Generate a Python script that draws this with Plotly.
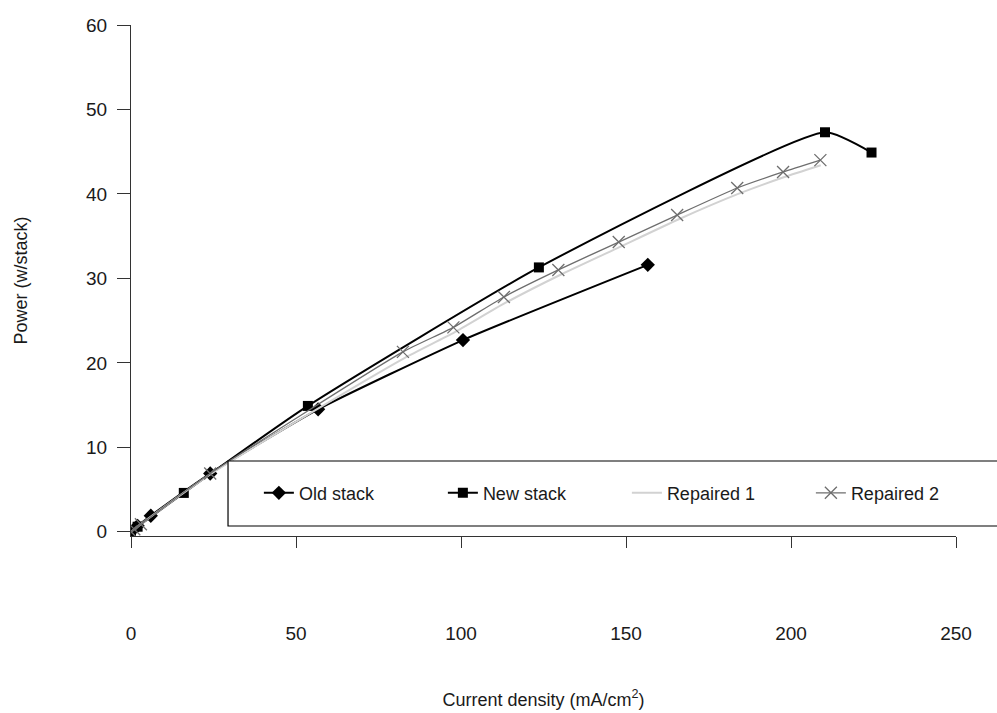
import plotly.graph_objects as go

# Current density (mA/cm2) and power (W/stack) for each stack
old_x = [0, 2, 6, 24, 56.7, 100.6, 156.6]
old_y = [0, 0.7, 1.9, 6.9, 14.5, 22.7, 31.6]

new_x = [0, 2, 16, 53.6, 123.6, 210.3, 224.4]
new_y = [0, 0.6, 4.6, 14.9, 31.3, 47.3, 44.9]

rep1_x = [0, 1, 5, 24, 55, 83, 98, 113, 130, 148, 166, 184, 198, 209]
rep1_y = [0, 0.3, 1.5, 6.8, 14.2, 20.6, 23.6, 27.0, 30.4, 33.7, 37.0, 40.0, 42.0, 43.4]

rep2_x = [0, 1, 3, 24, 82.4, 97.7, 113.0, 129.5, 147.8, 165.5, 183.7, 197.6, 208.9]
rep2_y = [0, 0.3, 0.9, 6.9, 21.3, 24.2, 27.8, 31.0, 34.3, 37.5, 40.7, 42.6, 44.0]

x_ticks = [0, 50, 100, 150, 200, 250]
y_ticks = [0, 10, 20, 30, 40, 50, 60]

FONT = "Liberation Sans, Arial, sans-serif"
INK = "#1a1a1a"

fig = go.Figure()
fig.add_trace(go.Scatter(
    x=old_x, y=old_y, name="Old stack", mode="lines+markers",
    line=dict(color="black", width=2, shape="spline", smoothing=0.5),
    marker=dict(symbol="diamond", size=11, color="black"),
))
fig.add_trace(go.Scatter(
    x=new_x, y=new_y, name="New stack", mode="lines+markers",
    line=dict(color="black", width=2, shape="spline", smoothing=0.5),
    marker=dict(symbol="square", size=10, color="black"),
))
fig.add_trace(go.Scatter(
    x=rep1_x, y=rep1_y, name="Repaired 1", mode="lines",
    line=dict(color="#d2d2d2", width=2, shape="spline", smoothing=0.5),
))
fig.add_trace(go.Scatter(
    x=rep2_x, y=rep2_y, name="Repaired 2", mode="lines+markers",
    line=dict(color="#6e6e6e", width=1.3, shape="spline", smoothing=0.5),
    marker=dict(symbol="x-thin-open", size=12, color="#6e6e6e",
                line=dict(color="#6e6e6e", width=1.3)),
))

# White legend frame laid over the lower part of the plot
fig.add_shape(type="rect", xref="paper", yref="paper",
              x0=0.1176, x1=1.1, y0=0.0196, y1=0.1468,
              line=dict(color="black", width=1.2), fillcolor="white",
              layer="above")

fig.update_layout(
    width=997, height=713,
    margin=dict(l=131, r=41, t=25, b=177, autoexpand=False),
    paper_bgcolor="white", plot_bgcolor="white",
    font=dict(family=FONT, size=19, color=INK),
    showlegend=True,
    legend=dict(orientation="h", x=0.155, xanchor="left",
                y=0.084, yanchor="middle",
                bgcolor="rgba(0,0,0,0)", borderwidth=0,
                entrywidth=139, entrywidthmode="pixels",
                font=dict(family=FONT, size=18, color=INK)),
    xaxis=dict(range=[0, 250], tickvals=x_ticks, ticks="outside",
               ticklen=11, tickcolor="#333", showline=True,
               linecolor="#333", linewidth=1.3, showgrid=False,
               zeroline=False, ticklabelstandoff=69,
               tickfont=dict(size=19),
               title=dict(text="Current density (mA/cm<sup>2</sup>)",
                          standoff=50, font=dict(size=18))),
    yaxis=dict(range=[-0.5, 60], tickvals=y_ticks, ticks="outside",
               ticklen=13, tickcolor="#333", showline=True,
               linecolor="#333", linewidth=1.3, showgrid=False,
               zeroline=False, ticklabelstandoff=6,
               tickfont=dict(size=19),
               title=dict(text="Power (w/stack)", standoff=53,
                          font=dict(size=18))),
)

fig.write_html("out.html")
